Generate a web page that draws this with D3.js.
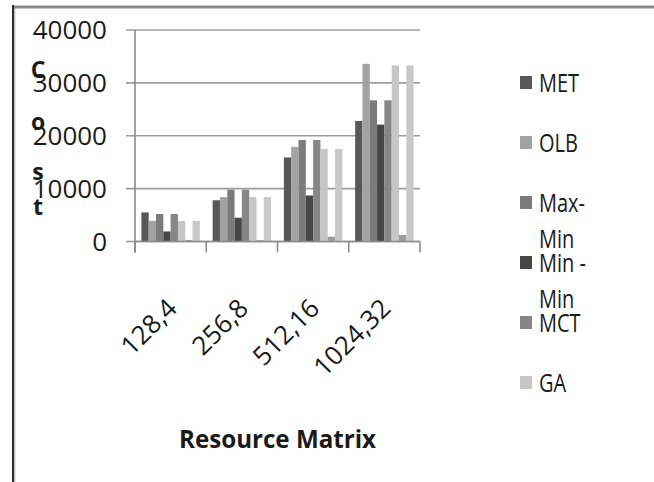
<!DOCTYPE html>
<html>
<head>
<meta charset="utf-8">
<script src="https://cdn.jsdelivr.net/npm/d3@7"></script>
<style>
  html, body { margin: 0; padding: 0; background: #fff; }
  svg { display: block; }
  text { font-family: "Open Sans", "Noto Sans", sans-serif; fill: #1a1a1a; }
</style>
</head>
<body>
<svg id="chart" width="654" height="482"></svg>
<script>
// Categories (resource matrix size) and tick labels
const categories = ["128,4", "256,8", "512,16", "1024,32"];
const yTicks = [0, 10000, 20000, 30000, 40000];

// Series, in drawing order inside each group
const seriesNames = ["MET", "OLB", "Max-Min", "Min -Min", "MCT", "GA", "Series7", "Series8"];
const metValues    = [5500, 7800, 15900, 22800];
const olbValues    = [3900, 8400, 17900, 33600];
const maxMinValues = [5200, 9800, 19200, 26700];
const minMinValues = [1900, 4500, 8700, 22100];
const mctValues    = [5200, 9800, 19200, 26700];
const gaValues     = [3900, 8400, 17500, 33300];
const s7Values     = [300, 250, 900, 1250];
const s8Values     = [3900, 8400, 17500, 33300];
const seriesValues = [metValues, olbValues, maxMinValues, minMinValues, mctValues, gaValues, s7Values, s8Values];
const seriesColors = ["#585858", "#a2a2a2", "#7b7b7b", "#464646", "#868686", "#c6c6c6", "#9c9c9c", "#c9c9c9"];
const legendShown = 6;   // the legend box only has room for the first six entries

const svg = d3.select("#chart");

// frame of the chart object
svg.append("line").attr("x1", 12).attr("x2", 654).attr("y1", 7).attr("y2", 7)
  .attr("stroke", "#8a8a8a").attr("stroke-width", 3);
svg.append("line").attr("x1", 13).attr("x2", 13).attr("y1", 5).attr("y2", 482)
  .attr("stroke", "#2e2e2e").attr("stroke-width", 2);
svg.append("line").attr("x1", 14.8).attr("x2", 14.8).attr("y1", 8).attr("y2", 482)
  .attr("stroke", "#a8a8a8").attr("stroke-width", 1);

const plot = { left: 135, right: 420, top: 30, bottom: 241.5 };

const x0 = d3.scaleBand().domain(categories).range([plot.left, plot.right]).paddingInner(0).paddingOuter(0);
const x1 = d3.scaleBand().domain(seriesNames).range([0, x0.bandwidth()]).paddingInner(0).paddingOuter(0.875);
const y = d3.scaleLinear().domain([0, 40000]).range([plot.bottom, plot.top]);

// gridlines + left ticks
const grid = svg.append("g");
grid.selectAll("line").data(yTicks).join("line")
  .attr("x1", plot.left - 9).attr("x2", plot.right)
  .attr("y1", d => y(d)).attr("y2", d => y(d))
  .attr("stroke", "#9c9c9c").attr("stroke-width", 1.6);

// y tick labels
svg.append("g").selectAll("text").data(yTicks).join("text")
  .attr("x", 107).attr("y", d => y(d) + 9)
  .attr("text-anchor", "end")
  .attr("font-size", 26)
  .text(d => d);

// bars
const groups = svg.append("g").selectAll("g").data(categories).join("g")
  .attr("transform", d => `translate(${x0(d)},0)`);
groups.selectAll("rect")
  .data((c, ci) => seriesNames.map((s, si) => ({ s, si, v: seriesValues[si][ci] })))
  .join("rect")
  .attr("x", d => x1(d.s))
  .attr("width", x1.bandwidth())
  .attr("y", d => y(d.v))
  .attr("height", d => y(0) - y(d.v))
  .attr("fill", d => seriesColors[d.si]);

// axes lines
svg.append("line").attr("x1", plot.left).attr("x2", plot.left)
  .attr("y1", plot.top).attr("y2", plot.bottom + 11)
  .attr("stroke", "#8c8c8c").attr("stroke-width", 1.6);
svg.append("line").attr("x1", plot.left).attr("x2", plot.right)
  .attr("y1", plot.bottom).attr("y2", plot.bottom)
  .attr("stroke", "#8c8c8c").attr("stroke-width", 1.6);
const boundaries = categories.map(c => x0(c)).concat([plot.right]);
svg.append("g").selectAll("line").data(boundaries).join("line")
  .attr("x1", d => d).attr("x2", d => d)
  .attr("y1", plot.bottom).attr("y2", plot.bottom + 11)
  .attr("stroke", "#8c8c8c").attr("stroke-width", 1.6);

// category labels, rotated
svg.append("g").selectAll("text").data(categories).join("text")
  .attr("text-anchor", "end")
  .attr("font-size", 26)
  .attr("transform", d => `translate(${x0(d) + x0.bandwidth() / 2 + 8},310) rotate(-45)`)
  .text(d => d);

// x axis title
svg.append("text")
  .attr("x", (plot.left + plot.right) / 2).attr("y", 448)
  .attr("text-anchor", "middle").attr("font-size", 25).attr("font-weight", "bold")
  .attr("textLength", 197).attr("lengthAdjust", "spacingAndGlyphs")
  .text("Resource Matrix");

// y axis title, stacked letters
const costLetters = ["C", "o", "s", "t"];
const costBase = [78, 130, 180, 215];
svg.append("g").selectAll("text").data(costLetters).join("text")
  .attr("x", 38).attr("y", (d, i) => costBase[i])
  .attr("text-anchor", "middle").attr("font-size", 23).attr("font-weight", "bold")
  .text(d => d);

// legend
const legend = svg.append("g");
seriesNames.slice(0, legendShown).forEach((name, i) => {
  const base = 92 + 60 * i;
  legend.append("rect").attr("x", 520).attr("y", base - 16).attr("width", 12).attr("height", 13)
    .attr("fill", seriesColors[i]);
  const lines = name.match(/[^-]*-|[^-]+$/g);
  lines.forEach((ln, j) => {
    const t = legend.append("text")
      .attr("x", 539).attr("y", base + 36 * j)
      .attr("font-size", 25)
      .text(ln);
    const w = t.node().getComputedTextLength();
    t.attr("textLength", w * 0.8).attr("lengthAdjust", "spacingAndGlyphs");
  });
});
</script>
</body>
</html>
